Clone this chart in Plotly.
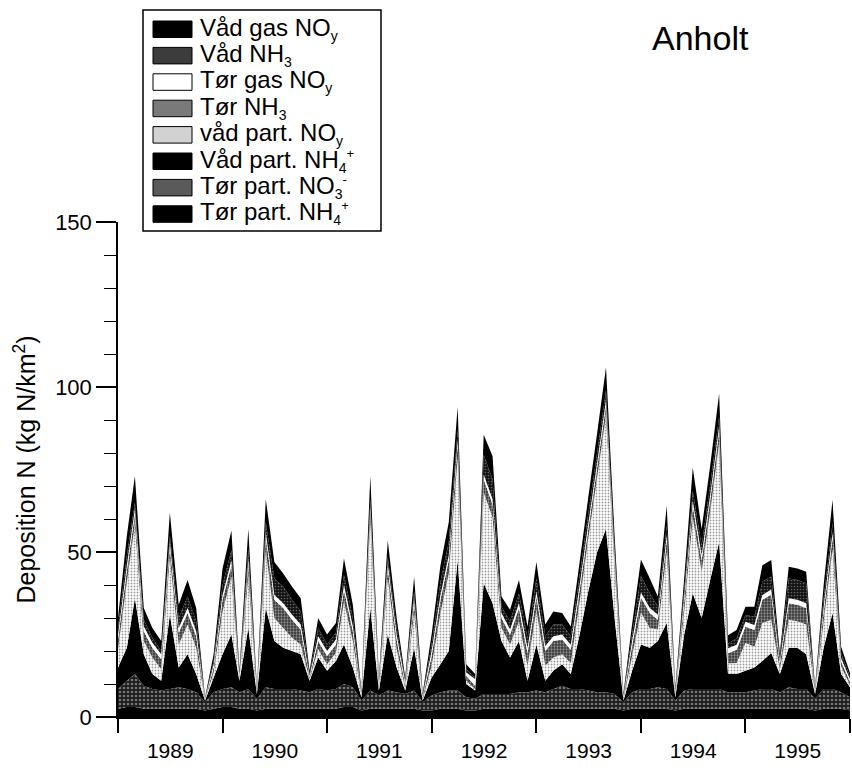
import plotly.graph_objects as go
import pandas as pd

# ---------------- data (kg N/km2, monthly, Jan 1989 .. Jan 1996) ----------------
months = pd.date_range("1989-01-01", periods=85, freq="MS")

tor_part_nh4 = [2.5,3,3,2.5,2.5,2.5,2.5,2.5,2.5,2.5,2,2.5,3,3,2.5,2.5,2,2.5,2.5,2.5,
                2.5,2.5,2.5,2.5,2.5,2.5,3,3,2,2.5,2.5,2.5,2.5,2.5,2.5,2,2,2.5,2.5,2.5,
                2,2,2.5,2.5,2.5,2.5,2.5,2.5,2.5,2.5,2.5,2.5,2.5,2.5,2.5,2.5,2.5,2.5,2,2.5,
                2.5,2.5,2.5,2.5,2,2.5,2.5,2.5,2.5,2.5,2.5,2.5,2.5,2.5,2.5,2.5,2.5,2.5,2.5,2.5,
                2,2.5,2.5,2.5,2]
tor_part_no3 = [6,8,10,7,6,5.5,6,6.5,6,5,2.5,5,5.5,6,5,6,3.5,6.5,6,6,
                6,5.5,5,6,5.5,6,7,6,3,5.5,4,5.5,5,4.5,5.5,2.5,4.5,5,5.5,5.5,
                4,3.5,4.5,4.5,4.5,4.5,5,5,5.5,5,6,7,6,6,5.5,5,5,4.5,2.5,5,
                6,6,6.5,6,3,5.5,6,6,6,6,5,5,5,5.5,6,6,5,6.5,6,6,
                3.5,6,6,5,4]
vad_part_nh4 = [6.5,10,23,9.5,4.5,3,22.5,6,10.5,5.5,0.5,4.5,10.5,16,3.5,18.5,1.5,24,14.5,12.5,
                11.5,11,3.5,9.5,6,8.5,12,6,1,25,1.5,17,7.5,1,13,0.5,5.5,8.5,12,39.5,
                4,2.5,33.5,27.5,16,11,15.5,3.5,14,3.5,5.5,6.5,4.5,16.5,30,42.5,49.5,23,0.5,6.5,
                13.5,12.5,14,20,1,17,29,21.5,33.5,44.5,5.5,5.5,6.5,7,8.5,10.9,5.5,12,12.5,10.5,
                1.5,12.5,23,5.5,3]
vad_part_noy = [5.5,20,22.5,4,5,3.5,17.5,7,9,8,0.2,1.5,13,17.5,0.5,16,0.3,17.5,7,6,
                4,3,0.5,2.5,2,2.5,13,8,0.3,26.5,0.8,17,5.5,0.8,10.5,0.4,3.5,15.5,23.5,31,
                1,0.5,27.5,26,4,4,6,4.4,10.5,4.5,4,3,3.4,10,16,22.5,34.5,15,0.4,4.5,
                9.7,6,3.5,21.5,0.6,7,23,14,21,30,3.3,3.4,8.4,6.4,11.5,10.1,1.4,8.5,8,9,
                0.4,8,19.3,2.3,0.7]
tor_nh3 = [3,3.5,3,3,3,3,3,3.5,3.5,3.5,0.2,1.5,3.5,3.5,0.5,3.5,0.4,4,5.5,6,
           5.5,4.5,0.5,2.5,2.5,2.5,3.5,3,0.4,3,0.9,3,3,0.9,3,0.5,3,4,4,4,
           1.5,1,4,4,3,3,4,4,4,4.5,5,4.5,4,3.5,3,3,3,2.5,0.5,3,
           4.5,4.5,3,3.5,0.6,3,3.5,3.5,3.5,3.5,3,4,5,5,7,7.6,1.5,5,5,5,
           0.5,3,3.5,1.5,1]
tor_gas_noy = [1.5,1.5,1.5,1.5,1.5,1.5,1.5,1.5,1.5,1.5,0.2,1,1.5,1.5,0.5,1.5,0.4,1.5,1.5,1.5,
               1.5,1.5,0.5,1.5,1.5,1.5,1.5,1.5,0.4,1.5,0.8,1.5,1.5,0.8,1.5,0.5,1.5,1.5,1.5,1.5,
               1,2,1.5,1.5,1.5,1.5,1.5,1.5,1.5,1.5,1.5,1.5,1.5,1.5,1.5,1.5,1.5,1.5,0.5,1.5,
               1.5,1.5,1.5,1.5,0.6,1.5,1.5,1.5,1.5,1.5,1.5,1.5,1.5,1.5,1.5,1.5,1,1.5,1.5,1.5,
               0.5,1.5,1.5,1,0.8]
vad_nh3 = [2,3,2,2,1.5,1,2,3,3.5,3,0.1,1,3,3,0.5,3,0.3,3,5,5,
           4.5,4,0.5,2.5,2,2,3,2.5,0.3,2,0.5,2,2,0.5,2,0.3,2,4,4,3,
           1,0.5,6,6,2,2.5,3,3,4,3,3.5,3,2.5,3,3,3,3,2,0.3,2,
           5,4.5,2.5,3,0.4,2,3,3,3,3,1.5,2,2,2.5,4,4,1,6,6,6,
           0.3,2.5,3,1.5,0.8]
vad_gas_noy = [3,6,8,3.5,3,3,7,4,5,4,0.3,2,5,6,1,6,0.6,7,5,4,
               4,4,1,3,3,3,5,4,0.6,7,1,5,3,1,4.5,0.6,3,5,6,7,
               1.5,1,6,7,3,3.5,4,3.5,5,3.5,4,3.5,3,4,5,6,7,4,0.5,3,
               5,4.5,3,6,0.8,3.5,7,5,6,7,2.5,2.5,2.5,3,5,5,1.5,3.5,3.5,3.5,
               0.5,4,7,2,1]

def sub(t):
    return "<sub><span style='font-size:14px'>%s</span></sub>" % t

def sup(t):
    return "<sup><span style='font-size:13px'>%s</span></sup>" % t

labels = ["Tør part. NH" + sub("4") + sup("+"), "Tør part. NO" + sub("3") + sup("-"),
          "Våd part. NH" + sub("4") + sup("+"), "våd part. NO" + sub("y"),
          "Tør NH" + sub("3"), "Tør gas NO" + sub("y"), "Våd NH" + sub("3"),
          "Våd gas NO" + sub("y")]
series = [tor_part_nh4, tor_part_no3, vad_part_nh4, vad_part_noy,
          tor_nh3, tor_gas_noy, vad_nh3, vad_gas_noy]

# ---------------- styles ----------------
fills = [
    dict(fillcolor="black"),
    dict(fillcolor="#555555", fillpattern=dict(shape=".", bgcolor="#1c1c1c", fgcolor="#d0d0d0", size=4, solidity=0.35)),
    dict(fillcolor="black"),
    dict(fillcolor="#cfcfcf", fillpattern=dict(shape=".", bgcolor="white", fgcolor="#3a3a3a", size=3, solidity=0.3)),
    dict(fillcolor="#808080", fillpattern=dict(shape=".", bgcolor="#333333", fgcolor="#e6e6e6", size=3, solidity=0.45)),
    dict(fillcolor="white"),
    dict(fillcolor="#3a3a3a", fillpattern=dict(shape=".", bgcolor="#111111", fgcolor="#b0b0b0", size=3, solidity=0.25)),
    dict(fillcolor="black"),
]
swatch_colors = ["black", "#5a5a5a", "black", "#d2d2d2", "#7a7a7a", "white", "#3c3c3c", "black"]

FONT = "Liberation Sans, Arial, Helvetica, sans-serif"
W, H = 852, 778
ML, MR, MT, MB = 118, 2, 222, 61

fig = go.Figure()
for lab, vals, st in zip(labels, series, fills):
    fig.add_trace(go.Scatter(x=months, y=vals, name=lab, mode="none",
                             stackgroup="one", showlegend=False, **st))

def px(x):
    return (x - ML) / (W - ML - MR)

def py(y):
    return (H - MB - y) / (H - MT - MB)

shapes = []
annotations = []
# legend box
shapes.append(dict(type="rect", xref="paper", yref="paper",
                   x0=px(143), x1=px(381), y0=py(10), y1=py(231),
                   line=dict(color="black", width=1.5), fillcolor="white", layer="above"))
order = list(range(len(labels)))[::-1]  # top of stack first
for k, idx in enumerate(order):
    top = 21 + 26.4 * k
    shapes.append(dict(type="rect", xref="paper", yref="paper",
                       x0=px(153), x1=px(192), y0=py(top), y1=py(top + 16.5),
                       line=dict(color="black", width=1), fillcolor=swatch_colors[idx], layer="above"))
    annotations.append(dict(xref="paper", yref="paper", x=px(198), y=py(top + 7.5),
                            text=labels[idx], showarrow=False, xanchor="left", yanchor="middle",
                            font=dict(family=FONT, size=24, color="black")))

annotations.append(dict(xref="paper", yref="paper", x=px(700), y=py(38), text="Anholt",
                        showarrow=False, xanchor="center", yanchor="middle",
                        font=dict(family=FONT, size=34, color="black")))

fig.update_layout(
    width=W, height=H,
    margin=dict(l=ML, r=MR, t=MT, b=MB, pad=0),
    plot_bgcolor="white", paper_bgcolor="white",
    font=dict(family=FONT, color="black"),
    shapes=shapes, annotations=annotations,
    showlegend=False,
)
fig.update_xaxes(
    type="date", range=["1989-01-01", "1996-01-01"],
    tick0="1989-01-01", dtick="M12", tickformat="%Y", ticklabelmode="period",
    ticks="outside", ticklen=14, tickwidth=1.5, tickcolor="black",
    showline=True, linecolor="black", linewidth=1.5,
    showgrid=False, zeroline=False,
    tickfont=dict(family=FONT, size=21, color="black"),
)
fig.update_yaxes(
    range=[0, 150], tickvals=[0, 50, 100, 150],
    ticks="outside", ticklen=20, tickwidth=1.5, tickcolor="black",
    minor=dict(dtick=10, ticks="outside", ticklen=12, tickwidth=1.2, tickcolor="black", showgrid=False),
    showline=True, linecolor="black", linewidth=1.5,
    showgrid=False, zeroline=False,
    tickfont=dict(family=FONT, size=22, color="black"),
    title=dict(text="Deposition N (kg N/km<sup>2</sup>)", standoff=12,
               font=dict(family=FONT, size=25, color="black")),
)

fig.write_html("out.html")
